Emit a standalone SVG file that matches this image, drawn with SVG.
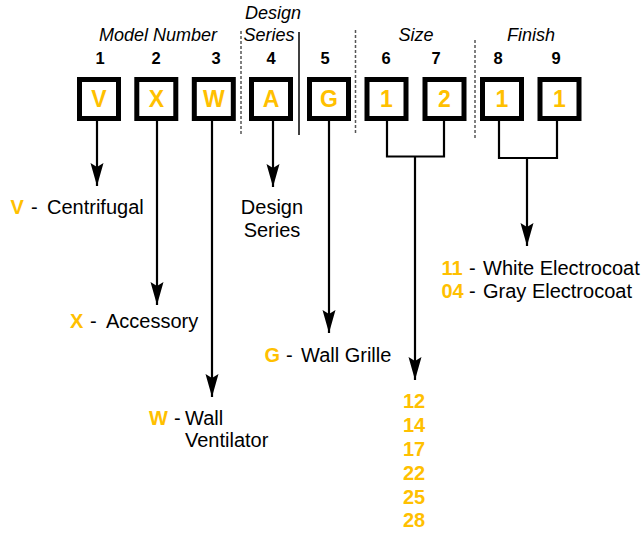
<svg xmlns="http://www.w3.org/2000/svg" width="644" height="535" viewBox="0 0 644 535">
<defs>
<style>
.box{fill:#fff;stroke:#000;stroke-width:5}
.let{font-family:"Liberation Sans",Arial,sans-serif;font-weight:bold;font-size:23px;fill:#FFC000;text-anchor:middle}
.num{font-family:"Liberation Sans",Arial,sans-serif;font-weight:bold;font-size:16.5px;fill:#000;text-anchor:middle}
.hd{font-family:"Liberation Sans",Arial,sans-serif;font-style:italic;font-size:18px;fill:#000;text-anchor:middle}
.t{font-family:"Liberation Sans",Arial,sans-serif;font-size:20px;fill:#000}
.y{font-family:"Liberation Sans",Arial,sans-serif;font-weight:bold;font-size:20px;fill:#FFC000}
.ln{fill:none;stroke:#000;stroke-width:2.2}
.dash{fill:none;stroke:#555;stroke-width:1.5;stroke-dasharray:3 2}
</style>
<marker id="ah" markerUnits="userSpaceOnUse" markerWidth="25" markerHeight="14" viewBox="-24 -7 25 14" refX="0" refY="0" orient="auto">
<path d="M0,0 L-23,-6.5 L-19,0 L-23,6.5 Z" fill="#000"/>
</marker>
</defs>
<g id="headings">
<text class="hd" x="158" y="41">Model Number</text>
<text class="hd" x="273" y="19">Design</text>
<text class="hd" x="269" y="41">Series</text>
<text class="hd" x="416" y="41">Size</text>
<text class="hd" x="531" y="41">Finish</text>
<text class="num" x="100" y="64">1</text>
<text class="num" x="156" y="64">2</text>
<text class="num" x="216" y="64">3</text>
<text class="num" x="271" y="64">4</text>
<text class="num" x="325" y="64">5</text>
<text class="num" x="386" y="64">6</text>
<text class="num" x="436" y="64">7</text>
<text class="num" x="498" y="64">8</text>
<text class="num" x="556" y="64">9</text>
</g>
<g id="dividers">
<line class="dash" x1="241" y1="31" x2="241" y2="135"/>
<line x1="299" y1="32" x2="299" y2="135" stroke="#000" stroke-width="1.5"/>
<line class="dash" x1="355.5" y1="30" x2="355.5" y2="135"/>
<line class="dash" x1="475" y1="40" x2="475" y2="138"/>
</g>
<g id="connectors">
<line class="ln" x1="97" y1="121" x2="97" y2="186" marker-end="url(#ah)"/>
<line class="ln" x1="157" y1="121" x2="157" y2="305" marker-end="url(#ah)"/>
<line class="ln" x1="212" y1="121" x2="212" y2="397" marker-end="url(#ah)"/>
<line class="ln" x1="273" y1="121" x2="273" y2="187" marker-end="url(#ah)"/>
<line class="ln" x1="329" y1="121" x2="329" y2="333" marker-end="url(#ah)"/>
<path class="ln" d="M387,121 V156.5 H444 V121"/>
<line class="ln" x1="415" y1="156.5" x2="415" y2="380" marker-end="url(#ah)"/>
<path class="ln" d="M499,121 V158 H557 V121"/>
<line class="ln" x1="527" y1="158" x2="527" y2="246" marker-end="url(#ah)"/>
</g>
<g id="box1"><rect class="box" x="79.5" y="79.5" width="39" height="39"/><text class="let" x="99" y="107">V</text></g>
<g id="box2"><rect class="box" x="136.8" y="79.5" width="39" height="39"/><text class="let" x="156.3" y="107">X</text></g>
<g id="box3"><rect class="box" x="194.3" y="79.5" width="39" height="39"/><text class="let" x="213.8" y="107">W</text></g>
<g id="box4"><rect class="box" x="251.5" y="79.5" width="39" height="39"/><text class="let" x="271" y="107">A</text></g>
<g id="box5"><rect class="box" x="309.5" y="79.5" width="39" height="39"/><text class="let" x="329" y="107">G</text></g>
<g id="box6"><rect class="box" x="367" y="79.5" width="39" height="39"/><text class="let" x="386.5" y="107">1</text></g>
<g id="box7"><rect class="box" x="425" y="79.5" width="39" height="39"/><text class="let" x="444.5" y="107">2</text></g>
<g id="box8"><rect class="box" x="482.5" y="79.5" width="39" height="39"/><text class="let" x="502" y="107">1</text></g>
<g id="box9"><rect class="box" x="540" y="79.5" width="39" height="39"/><text class="let" x="559.5" y="107">1</text></g>
<g id="legend-v"><text class="y" x="10.5" y="214">V</text><text class="t" x="31" y="214">-</text><text class="t" x="47" y="214">Centrifugal</text></g>
<g id="legend-a"><text class="t" x="272" y="214" text-anchor="middle">Design</text><text class="t" x="272" y="237" text-anchor="middle">Series</text></g>
<g id="legend-x"><text class="y" x="70" y="328">X</text><text class="t" x="90" y="328">-</text><text class="t" x="106" y="328">Accessory</text></g>
<g id="legend-g"><text class="y" x="264.5" y="362">G</text><text class="t" x="286" y="362">-</text><text class="t" x="301" y="362">Wall Grille</text></g>
<g id="legend-w"><text class="y" x="149" y="425">W</text><text class="t" x="174" y="425">-</text><text class="t" x="185" y="425">Wall</text><text class="t" x="185" y="447">Ventilator</text></g>
<g id="legend-size">
<text class="y" x="403" y="408">12</text>
<text class="y" x="403" y="432">14</text>
<text class="y" x="403" y="456">17</text>
<text class="y" x="403" y="480">22</text>
<text class="y" x="403" y="504">25</text>
<text class="y" x="403" y="527">28</text>
</g>
<g id="legend-finish">
<text class="y" x="441.5" y="275">11</text><text class="t" x="469" y="275">-</text><text class="t" x="483" y="275">White Electrocoat</text>
<text class="y" x="441.5" y="298">04</text><text class="t" x="469" y="298">-</text><text class="t" x="483" y="298">Gray Electrocoat</text>
</g>
</svg>
